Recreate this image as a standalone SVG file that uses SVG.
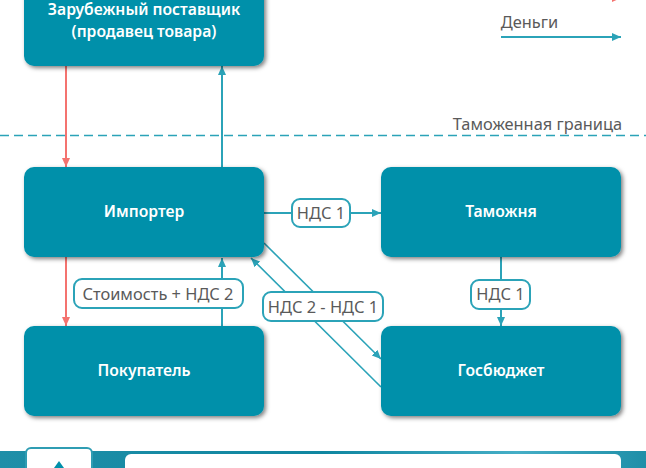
<svg xmlns="http://www.w3.org/2000/svg" width="646" height="468" viewBox="0 0 646 468">
<style>
.node{fill:#0090aa;filter:url(#sh)}
.nt{font-family:"Noto Sans","Open Sans",sans-serif;font-size:15.700px;font-weight:600;fill:#fff;text-anchor:middle}
.lab{font-family:"Noto Sans","Open Sans",sans-serif;font-size:16.400px;fill:#5a5a5a;text-anchor:middle}
.pill{fill:#fff;stroke:#2ba3b8;stroke-width:2}
.m{stroke:#2ba3b8;stroke-width:2;fill:none}
.thin{stroke-width:1.600}
.g{stroke:#f4736f;stroke-width:2;fill:none}
.dash{stroke:#2ba3b8;stroke-width:1.300;stroke-dasharray:9 5;fill:none}
</style>
<defs>
<filter id="sh" x="-5%" y="-10%" width="112%" height="125%"><feDropShadow dx="2" dy="2" stdDeviation="2" flood-color="#000" flood-opacity=".5"/></filter>
<marker id="at" markerUnits="userSpaceOnUse" markerWidth="10" markerHeight="10" refX="9" refY="5" orient="auto"><path d="M0 1L9 5L0 9Z" fill="#2ba3b8"/></marker>
<marker id="ar" markerUnits="userSpaceOnUse" markerWidth="10" markerHeight="10" refX="9" refY="5" orient="auto"><path d="M0 1L9 5L0 9Z" fill="#f4736f"/></marker>
<linearGradient id="st" x1="0" x2="1" y1="0" y2="0"><stop offset="0" stop-color="#1f8fa8"/><stop offset=".5" stop-color="#0f86a0"/><stop offset=".8" stop-color="#45aec6"/><stop offset="1" stop-color="#1f8fa8"/></linearGradient>
</defs>
<g id="footer">
<rect x="0" y="451" width="646" height="17" fill="url(#st)"/>
<rect x="125" y="454" width="496" height="30" rx="6" fill="#fff"/>
<rect x="26" y="448" width="66" height="40" rx="5" fill="#fff" stroke="#2f9db3" stroke-width="2"/>
<path d="M59 461L64 468H54Z" fill="#0090aa"/>
</g>
<g id="connectors">
<path class="dash" d="M0 135.500H646"/>
<path class="g" marker-end="url(#ar)" d="M66 66V167"/>
<path class="m" marker-end="url(#at)" d="M222 167V66"/>
<path class="g" marker-end="url(#ar)" d="M66 257V326"/>
<path class="m" marker-end="url(#at)" d="M222 326V258"/>
<path class="m" marker-end="url(#at)" d="M264 213H381"/>
<path class="m" marker-end="url(#at)" d="M501 257V326"/>
<path class="m thin" marker-end="url(#at)" d="M264 243L381 359"/>
<path class="m thin" marker-end="url(#at)" d="M381 387L251 258"/>
<path class="m" marker-end="url(#at)" d="M501 37H621"/>
<path class="g" marker-end="url(#ar)" d="M501 -2H621"/>
</g>
<g id="node-supplier"><rect class="node" x="24" y="-24" width="240" height="90" rx="10"/><text class="nt" x="144" y="15">Зарубежный поставщик</text><text class="nt" x="144" y="37">(продавец товара)</text></g>
<g id="node-importer"><rect class="node" x="24" y="167" width="240" height="90" rx="10"/><text class="nt" x="144" y="217">Импортер</text></g>
<g id="node-customs"><rect class="node" x="381" y="167" width="240" height="90" rx="10"/><text class="nt" x="501" y="217">Таможня</text></g>
<g id="node-buyer"><rect class="node" x="24" y="326" width="240" height="90" rx="10"/><text class="nt" x="144" y="376">Покупатель</text></g>
<g id="node-budget"><rect class="node" x="381" y="326" width="240" height="90" rx="10"/><text class="nt" x="501" y="376">Госбюджет</text></g>
<g id="labels">
<rect class="pill" x="292" y="199" width="58" height="28" rx="8"/><text class="lab" x="321" y="219">НДС 1</text>
<rect class="pill" x="471" y="280" width="59" height="29" rx="8"/><text class="lab" x="500.500" y="300">НДС 1</text>
<rect class="pill" x="74" y="279" width="169" height="29" rx="8"/><text class="lab" x="158" y="300">Стоимость + НДС 2</text>
<rect class="pill" x="263" y="292" width="120" height="29" rx="8"/><text class="lab" x="323" y="313">НДС 2 - НДС 1</text>
<text class="lab" x="529.500" y="28">Деньги</text>
<text class="lab" x="537.500" y="130">Таможенная граница</text>
</g>
</svg>
